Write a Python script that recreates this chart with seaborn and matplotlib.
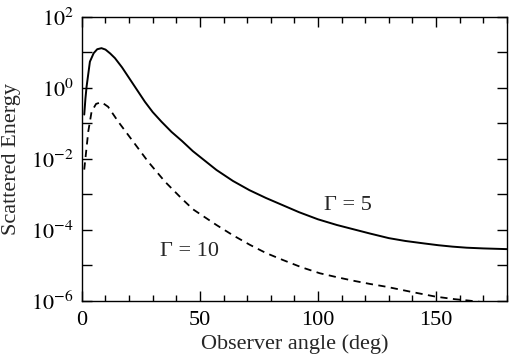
import matplotlib
matplotlib.use("Agg")
import matplotlib.pyplot as plt
import numpy as np
import pandas as pd
import seaborn as sns
from matplotlib.ticker import FixedLocator, MultipleLocator, FuncFormatter

# observer angle (deg) and log10(scattered energy)
angle_g5 = [1.0, 1.5, 2.0, 3.4, 5.0, 6.5, 8.3, 10, 12, 14, 17, 19.6, 23, 26.7, 30,
            33.7, 38, 42.5, 47, 57, 64, 71, 78, 85, 92, 100, 108, 115, 122, 130,
            137, 145, 151, 157, 163, 170, 175, 180]
logE_g5 = [-0.75, -0.30, 0.04, 0.74, 0.98, 1.09, 1.12, 1.08, 0.97, 0.84, 0.58, 0.32,
           -0.02, -0.39, -0.68, -0.95, -1.24, -1.50, -1.78, -2.31, -2.62, -2.88,
           -3.10, -3.30, -3.50, -3.70, -3.86, -3.98, -4.10, -4.23, -4.31, -4.38,
           -4.43, -4.47, -4.50, -4.52, -4.53, -4.54]

angle_g10 = [1.0, 2.7, 4.1, 6.0, 8.3, 11.1, 15.4, 21.7, 28.1, 35.2, 42.2, 47.1, 57,
             64, 71.2, 78, 85.3, 93, 100.8, 108, 115, 122, 129, 140, 150, 158, 164,
             172, 180]
logE_g10 = [-2.30, -1.23, -0.67, -0.45, -0.40, -0.53, -0.95, -1.51, -2.08, -2.64,
            -3.11, -3.42, -3.86, -4.15, -4.42, -4.65, -4.85, -5.05, -5.22, -5.33,
            -5.43, -5.52, -5.60, -5.75, -5.88, -5.95, -5.99, -6.05, -6.10]

label_g5 = "\u0393 = 5"
label_g10 = "\u0393 = 10"

df5 = pd.DataFrame({"angle": angle_g5, "energy": np.power(10.0, logE_g5)})
df10 = pd.DataFrame({"angle": angle_g10, "energy": np.power(10.0, logE_g10)})

sns.set_theme(style="ticks")
plt.rcParams["font.family"] = ["Liberation Serif", "DejaVu Serif"]
plt.rcParams["mathtext.fontset"] = "stix"

fig, ax = plt.subplots(figsize=(5.15, 3.6), dpi=100)
fig.subplots_adjust(left=0.159, right=0.984, top=0.953, bottom=0.164)

sns.lineplot(data=df5, x="angle", y="energy", ax=ax, color="black", lw=1.4,
             estimator=None, sort=False)
sns.lineplot(data=df10, x="angle", y="energy", ax=ax, color="black", lw=1.3,
             estimator=None, sort=False, dashes=False, linestyle=(0, (4, 3)))

ax.set_yscale("log")
ax.set_xlim(0, 180)
ax.set_ylim(1e-6, 1e2)

ax.xaxis.set_major_locator(FixedLocator([0, 50, 100, 150]))
ax.xaxis.set_minor_locator(MultipleLocator(10))
ax.yaxis.set_major_locator(FixedLocator([1e-6, 1e-4, 1e-2, 1e0, 1e2]))
ax.yaxis.set_minor_locator(FixedLocator([1e-5, 1e-3, 1e-1, 1e1]))
ax.yaxis.set_major_formatter(FuncFormatter(
    lambda v, p: r"$10^{%d}$" % int(round(np.log10(v)))))
ax.yaxis.set_minor_formatter(FuncFormatter(lambda v, p: ""))

ax.tick_params(which="both", direction="in", top=True, right=True,
               colors="black", labelsize=16)
ax.tick_params(which="major", length=7, width=1)
ax.tick_params(axis="x", which="minor", length=4, width=1)
ax.tick_params(axis="y", which="minor", length=7, width=1)
ax.tick_params(axis="x", pad=7)
ax.tick_params(axis="y", pad=6)
for s in ax.spines.values():
    s.set_color("black")
    s.set_linewidth(1.0)

ax.set_xlabel("Observer angle (deg)", fontsize=16, labelpad=3)
ax.set_ylabel("Scattered Energy", fontsize=16, va="center")
ax.yaxis.set_label_coords(-0.165, 0.5)

ax.text(112.7, 10 ** -3.30, label_g5, fontsize=16, ha="center", va="center")
ax.text(45.7, 10 ** -4.62, label_g10, fontsize=16, ha="center", va="center")

plt.savefig("out.png", dpi=100)
plt.close()
